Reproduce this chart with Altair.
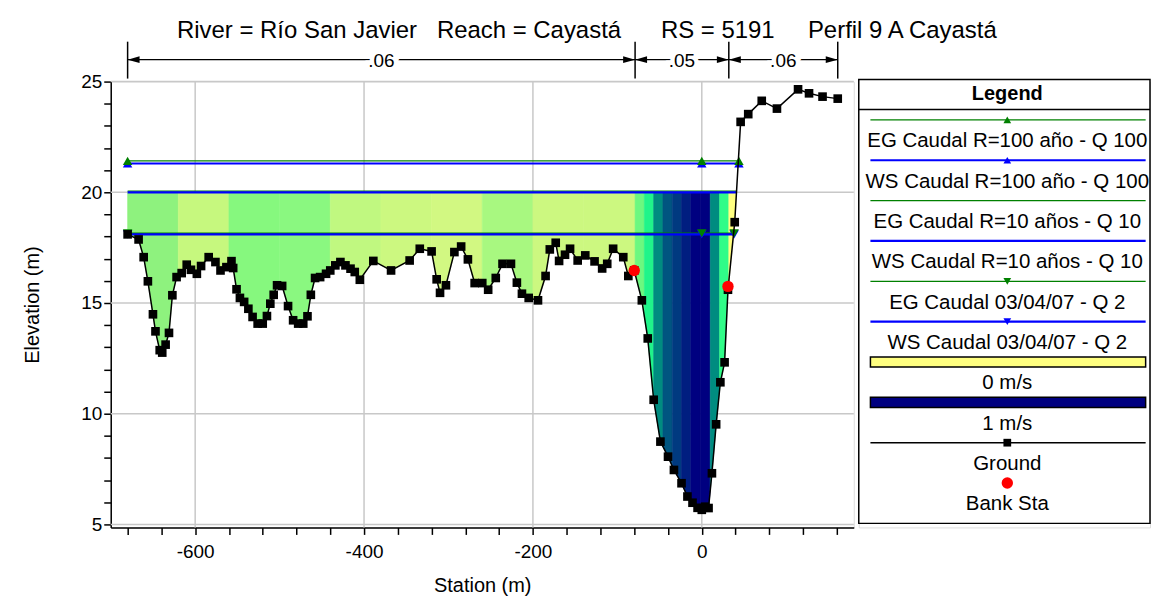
import altair as alt
import pandas as pd
import numpy as np

F = "Liberation Sans"

# ---------------- data ----------------
ground_sta = [-680, -667, -661, -656, -650, -647, -642, -639, -635, -631, -627, -622, -616, -610, -605, -598,
              -593, -584, -576, -570, -563, -557, -555, -551, -547, -542, -537, -532, -526, -520, -515, -511,
              -507, -503, -497, -490, -484, -478, -472, -467, -463, -458, -452, -445, -440, -434, -428, -422,
              -416, -411, -405, -389, -368, -346, -334, -320, -314, -310, -303, -293, -285, -277, -269, -260,
              -253, -244, -236, -226, -219, -213, -205, -194, -185, -180, -173, -169, -162, -156, -147, -138,
              -127, -118, -112, -105, -93, -87, -80, -71, -64, -57, -49, -40, -33, -24, -17, -11, -5, 0, 4, 8,
              12, 17, 22, 27, 31, 39, 46, 55, 71, 89, 114, 127, 143, 161]
ground_elev = [18.10, 17.87, 17.07, 15.98, 14.49, 13.72, 12.87, 12.76, 13.12, 13.65, 15.35, 16.17, 16.35, 16.73,
               16.50, 16.32, 16.67, 17.07, 16.85, 16.47, 16.62, 16.89, 16.58, 15.62, 15.23, 15.05, 14.74, 14.37,
               14.07, 14.07, 14.41, 14.97, 15.37, 15.80, 15.77, 14.86, 14.22, 14.07, 14.07, 14.40, 15.37, 16.13,
               16.17, 16.32, 16.47, 16.70, 16.85, 16.70, 16.55, 16.40, 16.05, 16.90, 16.47, 16.92, 17.45, 17.33,
               16.07, 15.46, 15.80, 17.30, 17.55, 16.97, 15.90, 15.90, 15.60, 16.13, 16.77, 16.77, 15.92, 15.42,
               15.23, 15.12, 16.22, 17.42, 17.72, 16.90, 17.18, 17.45, 16.92, 17.15, 16.88, 16.56, 16.77, 17.45,
               17.07, 16.22, 16.47, 15.12, 13.40, 10.63, 8.74, 8.06, 7.46, 6.86, 6.26, 5.98, 5.75, 5.66, 5.80,
               5.74, 7.31, 9.52, 11.42, 12.32, 15.60, 18.65, 23.18, 23.53, 24.13, 23.78, 24.65, 24.47, 24.32, 24.23]

bank_sta = [-80, 31]
bank_elev = [16.47, 15.75]

profile_names = ["EG Caudal R=100 año - Q 100", "WS Caudal R=100 año - Q 100",
                 "EG Caudal R=10 años - Q 10", "WS Caudal R=10 años - Q 10",
                 "EG Caudal 03/04/07 - Q 2", "WS Caudal 03/04/07 - Q 2"]
profile_elev = [21.42, 21.30, 20.05, 20.00, 18.15, 18.10]
profile_left = [-680, -680, -680, -680, -680, -680]
profile_right = [44, 44, 41.3, 41.3, 38.3, 38.3]
profile_kind = ["EG", "WS", "EG", "WS", "EG", "WS"]
profile_marker = ["triangle-up", "triangle-up", "", "", "triangle-down", "triangle-down"]
marker_sta_inner = [0]

fill_level = 20.0
slice_edges = [-680, -620, -560, -500, -440, -380, -320, -260, -200, -140, -79,
               -68, -57, -46, -35, -24, -13, -2, 10, 21, 32, 41.3]
slice_colors = ["#8EF27E", "#C6F87E", "#86F87E", "#8AF880", "#C0F880", "#CCF880", "#D2F882", "#A8F880",
                "#CCF880", "#CCF880",
                "#6CF880", "#20F48A", "#008C80", "#005580", "#003A80", "#001E80", "#000080", "#000080",
                "#008C80", "#30FC88",
                "#FFFF80"]

manning_bounds = [-680, -79, 32, 161]
manning_n = [".06", ".05", ".06"]

x_major = [-600, -400, -200, 0]
y_major = [5, 10, 15, 20, 25]

legend_labels = profile_names + ["0 m/s", "1 m/s", "Ground", "Bank Sta"]

title_text = ("River = Río San Javier" + "\u00a0" * 3 + "Reach = Cayastá" + "\u00a0" * 6 +
              "RS = 5191" + "\u00a0" * 5 + "Perfil 9 A Cayastá")

EG_COLOR = "#008000"
WS_COLOR = "#0000FF"
KIND_COLOR = {"EG": EG_COLOR, "WS": WS_COLOR}
KIND_WIDTH = {"EG": 1.3, "WS": 2.2}
KIND_ORDER = {"EG": 0, "WS": 1}

# ---------------- tables ----------------
gs = np.array(ground_sta, dtype=float)
ge = np.array(ground_elev, dtype=float)
ground_df = pd.DataFrame({"sta": ground_sta, "elev": ground_elev})
bank_df = pd.DataFrame({"sta": bank_sta, "elev": bank_elev})

fill_rows = []
for k, col in enumerate(slice_colors):
    a, b = slice_edges[k], slice_edges[k + 1]
    pts = [(a, float(np.interp(a, gs, ge)))]
    pts += [(s, e) for s, e in zip(ground_sta, ground_elev) if a < s < b]
    pts += [(b, float(np.interp(b, gs, ge)))]
    for s, e in pts:
        fill_rows.append({"slice": k, "sta": s, "bottom": min(e, fill_level), "top": fill_level, "color": col})
fill_df = pd.DataFrame(fill_rows)

prof_df = pd.DataFrame({"name": profile_names, "elev": profile_elev, "left": profile_left,
                        "right": profile_right, "kind": profile_kind})
prof_df["color"] = prof_df["kind"].map(KIND_COLOR)
prof_df["width"] = prof_df["kind"].map(KIND_WIDTH)
prof_df["ord"] = prof_df["kind"].map(KIND_ORDER)

mk_rows = []
for i in range(len(profile_names)):
    if profile_marker[i]:
        for s in [profile_left[i]] + marker_sta_inner + [profile_right[i]]:
            mk_rows.append({"sta": s, "elev": profile_elev[i], "shape": profile_marker[i],
                            "color": KIND_COLOR[profile_kind[i]], "ord": 1 - KIND_ORDER[profile_kind[i]]})
mk_df = pd.DataFrame(mk_rows)

seg_df = pd.DataFrame({"start": manning_bounds[:-1], "end": manning_bounds[1:], "label": manning_n})
seg_df["mid"] = (seg_df["start"] + seg_df["end"]) / 2
bnd_df = pd.DataFrame({"sta": manning_bounds})

# ---------------- scales & axes ----------------
x_scale = alt.Scale(domain=[-700, 180], nice=False, zero=False)
y_scale = alt.Scale(domain=[4.865, 25], nice=False, zero=False)

x_axis = alt.Axis(title="Station (m)", values=list(range(-680, 161, 40)),
                  labelExpr="datum.value % 200 == 0 ? '' + datum.value : ''",
                  grid=False, tickSize=7, tickWidth=1.5, tickColor="black", domainColor="black",
                  domainWidth=1.5, labelFont=F, labelFontSize=19, labelColor="black", labelPadding=8,
                  labelOverlap=False, labelFlush=False, titleFont=F, titleFontSize=20,
                  titleFontWeight="normal", titleColor="black", titleY=58, titleBaseline="middle")
y_axis = alt.Axis(title="Elevation (m)", values=list(range(5, 26)),
                  labelExpr="datum.value % 5 == 0 ? datum.label : ''",
                  grid=False, tickSize=7, tickWidth=1.5, tickColor="black", domainColor="black",
                  domainWidth=1.5, labelFont=F, labelFontSize=19, labelColor="black", labelPadding=2,
                  labelOverlap=False, labelFlush=False, titleFont=F, titleFontSize=20,
                  titleFontWeight="normal", titleColor="black", titleX=-78, titleBaseline="middle")


def X(field, **kw):
    return alt.X(field, type="quantitative", scale=x_scale, axis=x_axis, **kw)


def Y(field, **kw):
    return alt.Y(field, type="quantitative", scale=y_scale, axis=y_axis, **kw)


W, H = 745, 447

xgrid = alt.Chart(pd.DataFrame({"sta": x_major})).mark_rule(color="#C8C8C8", strokeWidth=1.5).encode(x=X("sta"))
ygrid = alt.Chart(pd.DataFrame({"elev": y_major})).mark_rule(color="#C8C8C8", strokeWidth=1.5).encode(y=Y("elev"))

fill = alt.Chart(fill_df).mark_area(interpolate="linear", strokeWidth=0.6).encode(
    x=X("sta"), y=Y("bottom"), y2="top", detail="slice:N",
    color=alt.Color("color:N", scale=None), stroke=alt.Stroke("color:N", scale=None))

prof_rules = alt.Chart(prof_df).mark_rule().encode(
    x=X("left"), x2="right", y=Y("elev"),
    color=alt.Color("color:N", scale=None),
    strokeWidth=alt.StrokeWidth("width:Q", scale=None),
    order=alt.Order("ord:Q"))

markers = alt.Chart(mk_df).mark_point(filled=True, size=90, opacity=1).encode(
    x=X("sta"), y=Y("elev"),
    shape=alt.Shape("shape:N", scale=None),
    color=alt.Color("color:N", scale=None),
    order=alt.Order("ord:Q"))

ground_line = alt.Chart(ground_df).mark_line(color="black", strokeWidth=1.5).encode(x=X("sta"), y=Y("elev"))
ground_pts = alt.Chart(ground_df).mark_square(color="black", size=75, opacity=1).encode(x=X("sta"), y=Y("elev"))
banks = alt.Chart(bank_df).mark_circle(color="#FF0000", size=130, opacity=1).encode(x=X("sta"), y=Y("elev"))

# Manning's n annotation above the plot
AY = -22
ann_rule = alt.Chart(seg_df).mark_rule(color="black", strokeWidth=1.2).encode(
    x=X("start"), x2="end", y=alt.value(AY))
ann_bnd = alt.Chart(bnd_df).mark_rule(color="black", strokeWidth=1.5).encode(
    x=X("sta"), y=alt.value(-40), y2=alt.value(-3))
ann_left = alt.Chart(seg_df).mark_point(shape="M0,0 L2,-0.55 L2,0.55 Z", filled=True, color="black",
                                        size=144, opacity=1).encode(x=X("start"), y=alt.value(AY))
ann_right = alt.Chart(seg_df).mark_point(shape="M0,0 L-2,-0.55 L-2,0.55 Z", filled=True, color="black",
                                         size=144, opacity=1).encode(x=X("end"), y=alt.value(AY))
ann_halo = alt.Chart(seg_df).mark_text(font=F, fontSize=19, baseline="middle", align="center",
                                       color="white", stroke="white", strokeWidth=9).encode(
    x=X("mid"), y=alt.value(AY + 1), text="label:N")
ann_text = alt.Chart(seg_df).mark_text(font=F, fontSize=19, baseline="middle", align="center",
                                       color="black").encode(x=X("mid"), y=alt.value(AY + 1), text="label:N")

main = alt.layer(xgrid, ygrid, fill, prof_rules, markers, ground_line, ground_pts, banks,
                 ann_rule, ann_bnd, ann_left, ann_right, ann_halo, ann_text).properties(width=W, height=H)

# ---------------- legend panel ----------------
LW, LH = 292, H
n_items = len(legend_labels)
item_color = [EG_COLOR, WS_COLOR, EG_COLOR, WS_COLOR, EG_COLOR, WS_COLOR, "#FFFF80", "#000080", "black", "#FF0000"]
item_kind = ["line", "line", "line", "line", "line", "line", "bar", "bar", "line", "point"]
item_width = [1.3, 2.2, 1.3, 2.2, 1.3, 2.2, 0, 0, 1.5, 0]
item_shape = profile_marker + ["", "", "square", "circle"]
item_size = [60, 60, 0, 0, 60, 60, 0, 0, 60, 130]
leg_df = pd.DataFrame({"label": legend_labels, "kind": item_kind, "shape": item_shape, "color": item_color,
                       "width": item_width, "size": item_size})
leg_df["sym_y"] = np.arange(n_items) + 1.0
leg_df["txt_y"] = np.arange(n_items) + 1.53
leg_df["x0"] = 0.04
leg_df["x1"] = 0.985
leg_df["xc"] = 0.51
leg_df["y0"] = leg_df["sym_y"] - 0.125
leg_df["y1"] = leg_df["sym_y"] + 0.125

lx = alt.Scale(domain=[0, 1], nice=False, zero=False)
ly = alt.Scale(domain=[11.10, 0.05], nice=False, zero=False)


def LX(f):
    return alt.X(f, type="quantitative", scale=lx, axis=None)


def LY(f):
    return alt.Y(f, type="quantitative", scale=ly, axis=None)


box_df = pd.DataFrame({"x0": [0.0], "x1": [1.0], "y0": [0.0], "y1": [11.0]})
leg_box = alt.Chart(box_df).mark_rect(fill="white", stroke="black", strokeWidth=1.5).encode(
    x=LX("x0"), x2="x1", y=LY("y0"), y2="y1")

line_items = leg_df[leg_df["kind"] == "line"]
leg_lines = alt.Chart(line_items).mark_rule().encode(
    x=LX("x0"), x2="x1", y=LY("sym_y"),
    color=alt.Color("color:N", scale=None),
    strokeWidth=alt.StrokeWidth("width:Q", scale=None))
mark_items = leg_df[leg_df["shape"] != ""]
leg_marks = alt.Chart(mark_items).mark_point(filled=True, opacity=1).encode(
    x=LX("xc"), y=LY("sym_y"),
    shape=alt.Shape("shape:N", scale=None),
    color=alt.Color("color:N", scale=None),
    size=alt.Size("size:Q", scale=None))
bar_items = leg_df[leg_df["kind"] == "bar"]
leg_bars = alt.Chart(bar_items).mark_rect(stroke="black", strokeWidth=1.5).encode(
    x=LX("x0"), x2="x1", y=LY("y0"), y2="y1",
    color=alt.Color("color:N", scale=None))
leg_text = alt.Chart(leg_df).mark_text(font=F, fontSize=20.5, baseline="middle", align="center",
                                       color="black").encode(x=LX("xc"), y=LY("txt_y"), text="label:N")
head_df = pd.DataFrame({"label": ["Legend"], "xc": [0.51], "ty": [0.35], "sy": [0.745], "x0": [0.0], "x1": [1.0]})
leg_head = alt.Chart(head_df).mark_text(font=F, fontSize=20, fontWeight="bold", baseline="middle",
                                        align="center", color="black").encode(
    x=LX("xc"), y=LY("ty"), text="label:N")
leg_sep = alt.Chart(head_df).mark_rule(color="black", strokeWidth=1.5).encode(x=LX("x0"), x2="x1", y=LY("sy"))

legend_panel = alt.layer(leg_box, leg_sep, leg_head, leg_lines, leg_marks, leg_bars, leg_text).properties(
    width=LW, height=LH)

chart = alt.hconcat(main, legend_panel, spacing=5, bounds="flush").resolve_scale(
    x="independent", y="independent"
).properties(
    title=alt.TitleParams(title_text, font=F, fontSize=24, fontWeight="normal", color="black",
                          anchor="middle", offset=-3),
    padding={"left": 14, "top": 10, "right": 0, "bottom": 0},
).configure_view(stroke=None).configure(background="white")

chart.save("out.html", embed_options={"renderer": "svg", "actions": False})
